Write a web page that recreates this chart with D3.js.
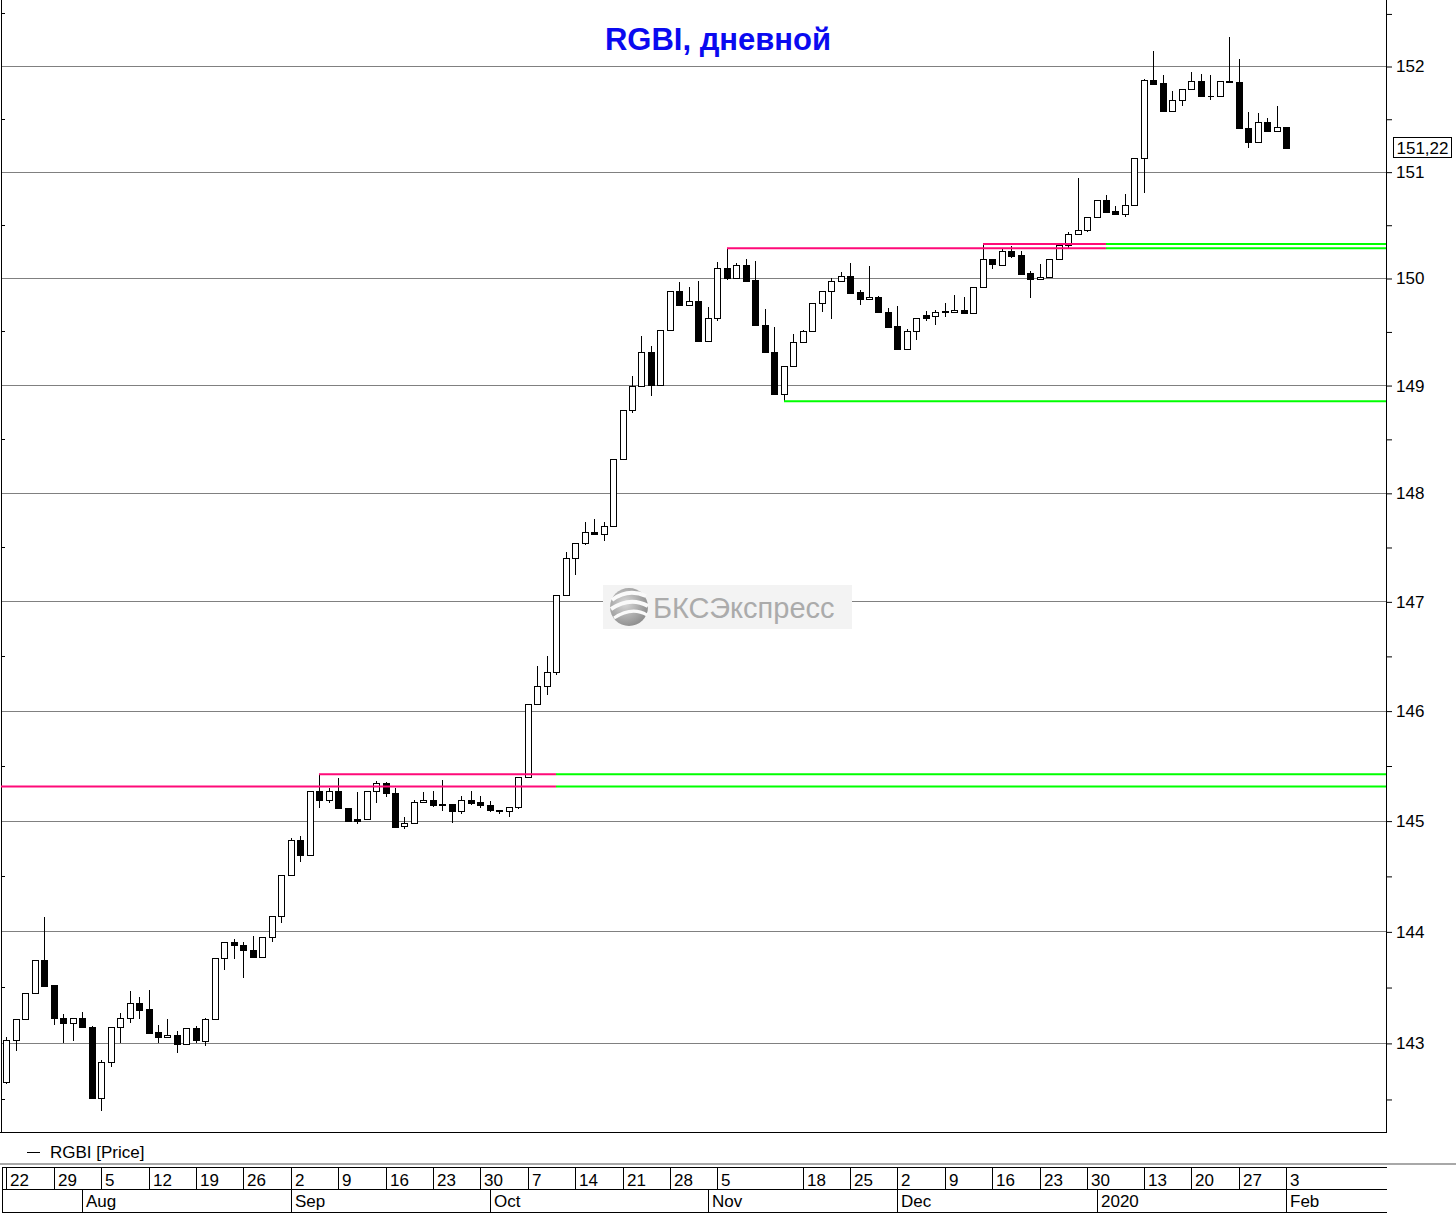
<!DOCTYPE html>
<html><head><meta charset="utf-8">
<script src="https://cdn.jsdelivr.net/npm/d3@7"></script>
<style>
body{margin:0;background:#fff}
svg{display:block}
text{font-family:"Liberation Sans",Arial,sans-serif}
</style>
</head><body>
<svg id="c" width="1456" height="1214"></svg>
<script>
// ---------------- DATA ----------------
const dates = [
"2019-07-22","2019-07-23","2019-07-24","2019-07-25","2019-07-26",
"2019-07-29","2019-07-30","2019-07-31","2019-08-01","2019-08-02",
"2019-08-05","2019-08-06","2019-08-07","2019-08-08","2019-08-09",
"2019-08-12","2019-08-13","2019-08-14","2019-08-15","2019-08-16",
"2019-08-19","2019-08-20","2019-08-21","2019-08-22","2019-08-23",
"2019-08-26","2019-08-27","2019-08-28","2019-08-29","2019-08-30",
"2019-09-02","2019-09-03","2019-09-04","2019-09-05","2019-09-06",
"2019-09-09","2019-09-10","2019-09-11","2019-09-12","2019-09-13",
"2019-09-16","2019-09-17","2019-09-18","2019-09-19","2019-09-20",
"2019-09-23","2019-09-24","2019-09-25","2019-09-26","2019-09-27",
"2019-09-30","2019-10-01","2019-10-02","2019-10-03","2019-10-04",
"2019-10-07","2019-10-08","2019-10-09","2019-10-10","2019-10-11",
"2019-10-14","2019-10-15","2019-10-16","2019-10-17","2019-10-18",
"2019-10-21","2019-10-22","2019-10-23","2019-10-24","2019-10-25",
"2019-10-28","2019-10-29","2019-10-30","2019-10-31","2019-11-01",
"2019-11-05","2019-11-06","2019-11-07","2019-11-08",
"2019-11-11","2019-11-12","2019-11-13","2019-11-14","2019-11-15",
"2019-11-18","2019-11-19","2019-11-20","2019-11-21","2019-11-22",
"2019-11-25","2019-11-26","2019-11-27","2019-11-28","2019-11-29",
"2019-12-02","2019-12-03","2019-12-04","2019-12-05","2019-12-06",
"2019-12-09","2019-12-10","2019-12-11","2019-12-12","2019-12-13",
"2019-12-16","2019-12-17","2019-12-18","2019-12-19","2019-12-20",
"2019-12-23","2019-12-24","2019-12-25","2019-12-26","2019-12-27",
"2019-12-30",
"2020-01-03","2020-01-06","2020-01-08","2020-01-09","2020-01-10",
"2020-01-13","2020-01-14","2020-01-15","2020-01-16","2020-01-17",
"2020-01-20","2020-01-21","2020-01-22","2020-01-23","2020-01-24",
"2020-01-27","2020-01-28","2020-01-29","2020-01-30","2020-01-31",
"2020-02-03"];

const opens = [
142.65,143.03,143.21,143.45,143.74, 143.52,143.22,143.18,143.22,143.14,
142.51,142.83,143.14,143.22,143.36, 143.30,143.10,143.05,143.07,142.99,
143.13,143.02,143.21,143.76,143.90, 143.88,143.83,143.77,143.95,144.14,
144.51,144.82,144.69,145.27,145.19, 145.27,145.11,145.01,145.01,145.27,
145.34,145.25,144.95,144.98,145.17, 145.19,145.15,145.15,145.09,145.19,
145.17,145.14,145.10,145.09,145.12, 145.40,146.06,146.22,146.35,147.06,
147.40,147.54,147.64,147.62,147.69, 148.31,148.77,148.99,149.31,149.00,
149.51,149.88,149.75,149.78,149.41, 149.63,150.09,150.00,150.12,
149.98,149.56,149.31,148.92,149.18, 149.40,149.50,149.77,149.88,149.97,
150.02,149.87,149.80,149.82,149.68, 149.55,149.34,149.50,149.65,149.64,
149.68,149.68,149.70,149.67,149.92, 150.18,150.12,150.25,150.22,150.05,
149.99,150.01,150.18,150.31,150.41, 150.45,
150.57,150.73,150.63,150.60,150.69, 151.13,151.87,151.84,151.57,151.68,
151.78,151.86,151.72,151.72,151.86, 151.85,151.41,151.28,151.47,151.38,
151.42];

const highs = [
143.05,143.21,143.45,143.74,144.13, 143.52,143.26,143.22,143.28,143.15,
142.85,143.14,143.27,143.46,143.41, 143.47,143.16,143.21,143.11,143.13,
143.15,143.22,143.76,143.90,143.93, 143.90,143.96,143.95,144.14,144.51,
144.84,144.86,145.27,145.42,145.30, 145.39,145.11,145.26,145.27,145.36,
145.35,145.30,145.03,145.19,145.26, 145.27,145.37,145.15,145.22,145.27,
145.22,145.18,145.10,145.12,145.40, 146.06,146.41,146.50,147.06,147.45,
147.54,147.73,147.76,147.73,148.31, 148.77,149.08,149.46,149.36,149.51,
149.88,149.96,149.92,149.97,149.73, 150.15,150.28,150.14,150.18,
150.16,149.71,149.54,149.18,149.48, 149.51,149.77,149.88,150.00,150.06,
150.14,149.89,150.11,149.83,149.72, 149.74,149.52,149.63,149.69,149.70,
149.77,149.84,149.82,149.92,150.32, 150.18,150.28,150.30,150.25,150.07,
150.13,150.18,150.31,150.43,150.94, 150.57,
150.73,150.78,150.68,150.79,151.13, 151.88,152.14,151.91,151.76,151.78,
151.94,151.92,151.91,151.86,152.28, 152.07,151.56,151.55,151.51,151.62,
151.42];

const lows = [
142.64,142.94,143.21,143.45,143.51, 143.17,143.01,143.03,143.14,142.51,
142.40,142.79,143.01,143.19,143.22, 143.09,143.01,143.05,142.92,142.99,
143.01,142.98,143.21,143.66,143.76, 143.59,143.77,143.77,143.91,144.08,
144.51,144.63,144.69,145.12,145.17, 145.11,145.00,144.98,145.01,145.17,
145.22,144.94,144.93,144.98,145.17, 145.13,145.10,144.99,145.07,145.15,
145.12,145.09,145.07,145.04,145.11, 145.40,146.06,146.15,146.33,147.06,
147.25,147.53,147.62,147.56,147.69, 148.31,148.75,148.99,148.91,149.00,
149.51,149.75,149.75,149.41,149.41, 149.61,149.99,150.00,149.97,
149.56,149.31,148.92,148.85,149.18, 149.40,149.50,149.69,149.63,149.97,
149.86,149.76,149.80,149.68,149.54, 149.34,149.34,149.43,149.61,149.57,
149.64,149.68,149.67,149.67,149.92, 150.09,150.12,150.20,150.04,149.82,
149.99,150.01,150.18,150.29,150.41, 150.44,
150.57,150.62,150.60,150.58,150.69, 150.81,151.83,151.57,151.57,151.63,
151.78,151.72,151.69,151.72,151.85, 151.41,151.23,151.28,151.38,151.38,
151.22];

const closes = [
143.03,143.21,143.45,143.74,143.51, 143.22,143.18,143.22,143.14,142.51,
142.83,143.14,143.22,143.36,143.29, 143.09,143.05,143.07,142.99,143.13,
143.03,143.21,143.76,143.90,143.88, 143.83,143.77,143.95,144.14,144.51,
144.82,144.69,145.27,145.19,145.27, 145.11,145.00,145.00,145.27,145.34,
145.25,144.94,144.98,145.17,145.19, 145.14,145.14,145.09,145.19,145.16,
145.14,145.10,145.09,145.12,145.40, 146.06,146.22,146.35,147.06,147.40,
147.54,147.64,147.62,147.69,148.31, 148.77,148.99,149.31,149.00,149.51,
149.88,149.75,149.78,149.41,149.63, 150.09,150.00,150.12,149.97,
149.56,149.31,148.92,149.18,149.40, 149.50,149.77,149.88,149.97,150.02,
149.86,149.80,149.82,149.68,149.54, 149.34,149.50,149.63,149.63,149.68,
149.69,149.70,149.67,149.92,150.18, 150.13,150.25,150.21,150.04,149.99,
150.01,150.18,150.31,150.41,150.45, 150.57,
150.73,150.62,150.60,150.69,151.13, 151.87,151.83,151.57,151.68,151.78,
151.86,151.72,151.72,151.86,151.85, 151.41,151.28,151.47,151.38,151.42,
151.22];

const priceTicks = [143,144,145,146,147,148,149,150,151,152];
const halfTicks = [142.5,143.5,144.5,145.5,146.5,147.5,148.5,149.5,150.5,151.5,152.5];

const weekTickDates = ["2019-07-22","2019-07-29","2019-08-05","2019-08-12","2019-08-19","2019-08-26",
  "2019-09-02","2019-09-09","2019-09-16","2019-09-23","2019-09-30","2019-10-07","2019-10-14",
  "2019-10-21","2019-10-28","2019-11-05","2019-11-18","2019-11-25","2019-12-02","2019-12-09",
  "2019-12-16","2019-12-23","2019-12-30","2020-01-13","2020-01-20","2020-01-27","2020-02-03"];
const weekTickLabels = ["22","29","5","12","19","26","2","9","16","23","30","7","14",
  "21","28","5","18","25","2","9","16","23","30","13","20","27","3"];
const monthTickDates = ["2019-08-01","2019-09-02","2019-10-01","2019-11-01","2019-12-02","2020-01-03","2020-02-03"];
const monthTickLabels = ["Aug","Sep","Oct","Nov","Dec","2020","Feb"];

// support / resistance levels: price, first date (null = from chart edge), date where line turns green
const levelPrices = [145.31, 145.42, 150.28, 150.32, 148.85];
const levelStarts = [null, "2019-09-05", "2019-11-06", "2019-12-13", "2019-11-14"];
const levelBreaks = ["2019-10-10", "2019-10-10", "2020-01-06", "2020-01-06", "2019-11-14"];

const titleText = "RGBI, дневной";
const legendText = "RGBI [Price]";
const lastPriceText = "151,22";
const watermarkText = "БКСЭкспресс";

// ---------------- CHART ----------------
const svg = d3.select("#c");
const plotL = 1, plotR = 1386, plotT = 0, plotB = 1132;
const step = 9.48;
const x = d3.scaleBand().domain(dates).range([1.56, 1.56 + step * dates.length]);
const cx = d => Math.round(x(d) + x.bandwidth() / 2);
const y = d3.scaleLog().domain([143, 152]).range([1042.9, 66]);
const py = v => Math.round(y(v));

const rows = dates.map((d, i) => ({date: d, o: opens[i], h: highs[i], l: lows[i], c: closes[i]}));

// gridlines
svg.append("g").selectAll("line").data(priceTicks).join("line")
  .attr("x1", plotL).attr("x2", plotR)
  .attr("y1", d => py(d) + 0.5).attr("y2", d => py(d) + 0.5)
  .attr("stroke", "#808080").attr("stroke-width", 1);

// watermark
const wm = svg.append("g");
wm.append("rect").attr("x", 603).attr("y", 585).attr("width", 249).attr("height", 44).attr("fill", "#f3f3f3");
const defs = svg.append("defs");
const rg = defs.append("radialGradient").attr("id", "gl").attr("cx", "40%").attr("cy", "40%").attr("r", "65%");
rg.append("stop").attr("offset", "0%").attr("stop-color", "#d8d8d8");
rg.append("stop").attr("offset", "100%").attr("stop-color", "#8c8c8c");
wm.append("circle").attr("cx", 629).attr("cy", 607).attr("r", 19).attr("fill", "url(#gl)");
[["M612,600 Q628,588 646,596", 4], ["M611,609 Q630,596 648,606", 4], ["M614,618 Q632,606 647,615", 3]]
  .forEach(([p, w]) => wm.append("path").attr("d", p).attr("fill", "none").attr("stroke", "#fafafa").attr("stroke-width", w));
wm.append("text").attr("x", 653).attr("y", 618).attr("font-size", 29).attr("fill", "#ababab").text(watermarkText);

// left minor ticks & frame
svg.append("g").selectAll("line").data(halfTicks).join("line")
  .attr("x1", 1).attr("x2", 5).attr("y1", d => py(d) + 0.5).attr("y2", d => py(d) + 0.5)
  .attr("stroke", "#000");
svg.append("line").attr("x1", 1.5).attr("x2", 1.5).attr("y1", plotT).attr("y2", plotB).attr("stroke", "#000");
svg.append("line").attr("x1", 0).attr("x2", plotR + 1).attr("y1", plotB + 0.5).attr("y2", plotB + 0.5).attr("stroke", "#000");

// candles
const cg = svg.append("g").attr("shape-rendering", "crispEdges");
cg.selectAll("line.wick").data(rows).join("line").attr("class", "wick")
  .attr("x1", d => cx(d.date) + 0.5).attr("x2", d => cx(d.date) + 0.5)
  .attr("y1", d => py(d.h)).attr("y2", d => py(d.l) + 1)
  .attr("stroke", "#000").attr("stroke-width", 1);
cg.selectAll("path.body").data(rows).join("path").attr("class", "body")
  .attr("d", d => {
    const t = py(Math.max(d.o, d.c)), b = py(Math.min(d.o, d.c));
    const x0 = cx(d.date) - 2.5;
    return `M${x0},${t + 0.5}h6v${b - t}h-6Z`;
  })
  .attr("fill", d => d.c < d.o ? "#000" : "#fff")
  .attr("stroke", "#000").attr("stroke-width", 1);

// level lines
const lv = svg.append("g");
levelPrices.forEach((p, i) => {
  const yy = y(p);
  const xs = levelStarts[i] ? cx(levelStarts[i]) : plotL;
  const xb = cx(levelBreaks[i]);
  if (xb > xs) lv.append("line").attr("x1", xs).attr("x2", xb).attr("y1", yy).attr("y2", yy)
    .attr("stroke", "#ff0a78").attr("stroke-width", 2);
  lv.append("line").attr("x1", xb).attr("x2", plotR).attr("y1", yy).attr("y2", yy)
    .attr("stroke", "#00ff00").attr("stroke-width", 2);
});

// title
svg.append("text").attr("x", 718).attr("y", 50).attr("text-anchor", "middle")
  .attr("font-size", 31).attr("font-weight", "bold").attr("fill", "#0a0af0").text(titleText);

// right axis
svg.append("line").attr("x1", plotR + 0.5).attr("x2", plotR + 0.5).attr("y1", 0).attr("y2", plotB + 1).attr("stroke", "#000");
const ax = svg.append("g").attr("transform", `translate(${plotR + 1},0.5)`)
  .call(d3.axisRight(y).tickValues(priceTicks).tickSize(5).tickPadding(4).tickFormat(d3.format("d")));
ax.select(".domain").remove();
ax.selectAll("text").attr("font-size", 17).attr("font-family", "Liberation Sans, Arial, sans-serif").attr("fill", "#000");
ax.selectAll("line").attr("stroke", "#000");
const ax2 = svg.append("g").attr("transform", `translate(${plotR + 1},0.5)`)
  .call(d3.axisRight(y).tickValues(halfTicks).tickSize(5).tickFormat(""));
ax2.select(".domain").remove();
ax2.selectAll("line").attr("stroke", "#000");

// last price box
const lastY = y(closes[closes.length - 1]);
svg.append("rect").attr("x", 1393.5).attr("y", Math.round(lastY) - 10.5).attr("width", 58).attr("height", 20)
  .attr("fill", "#fff").attr("stroke", "#000");
svg.append("text").attr("x", 1422.5).attr("y", lastY + 6).attr("text-anchor", "middle")
  .attr("font-size", 17).attr("fill", "#000").text(lastPriceText);

// legend
svg.append("line").attr("x1", 27).attr("x2", 40).attr("y1", 1152.5).attr("y2", 1152.5).attr("stroke", "#000");
svg.append("text").attr("x", 50).attr("y", 1158).attr("font-size", 17).attr("fill", "#000").text(legendText);

// separator & date box
svg.append("line").attr("x1", 0).attr("x2", 1456).attr("y1", 1164).attr("y2", 1164).attr("stroke", "#a8a8a8").attr("stroke-width", 2);
const db = svg.append("g").attr("shape-rendering", "crispEdges");
[1167.5, 1189.5, 1212.5].forEach(yy =>
  db.append("line").attr("x1", 2).attr("x2", plotR + 1).attr("y1", yy).attr("y2", yy).attr("stroke", "#000"));
db.append("line").attr("x1", 2.5).attr("x2", 2.5).attr("y1", 1167).attr("y2", 1213).attr("stroke", "#000");
db.selectAll("line.wk").data(weekTickDates).join("line").attr("class", "wk")
  .attr("x1", d => cx(d) + 0.5).attr("x2", d => cx(d) + 0.5).attr("y1", 1167).attr("y2", 1190).attr("stroke", "#000");
db.selectAll("line.mo").data(monthTickDates).join("line").attr("class", "mo")
  .attr("x1", d => cx(d) + 0.5).attr("x2", d => cx(d) + 0.5).attr("y1", 1190).attr("y2", 1213).attr("stroke", "#000");
svg.append("g").selectAll("text").data(weekTickDates).join("text")
  .attr("x", d => Math.max(cx(d), 6) + 4).attr("y", 1186).attr("font-size", 17).attr("fill", "#000")
  .text((d, i) => weekTickLabels[i]);
svg.append("g").selectAll("text").data(monthTickDates).join("text")
  .attr("x", d => cx(d) + 4).attr("y", 1207).attr("font-size", 17).attr("fill", "#000")
  .text((d, i) => monthTickLabels[i]);
</script>
</body></html>
